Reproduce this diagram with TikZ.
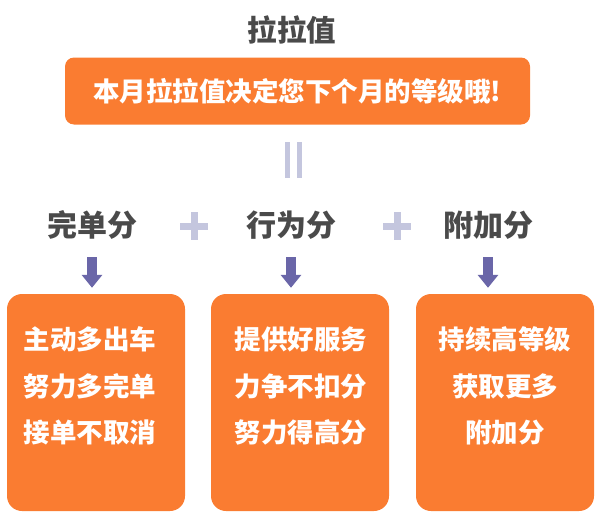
\documentclass[tikz,border=0pt]{standalone}
\usepackage{fontspec}
\newfontfamily\cjk{Noto Sans CJK SC}
\usetikzlibrary{arrows.meta, positioning}
\definecolor{lalaorange}{HTML}{FA7C31}
\definecolor{textgray}{HTML}{4A4A4A}
\definecolor{symlav}{HTML}{C4C6DE}
\definecolor{arrowpurple}{HTML}{6A66A8}

\begin{document}
\begin{tikzpicture}[
    x=1pt, y=-1pt,
    headline/.style={font=\cjk\bfseries\fontsize{29.5}{29.5}\selectfont,
                     text=textgray, inner sep=0pt},
    banner/.style={rectangle, rounded corners=9pt, fill=lalaorange,
                   minimum width=465pt, minimum height=67pt, text=white,
                   font=\cjk\bfseries\fontsize{26.5}{26.5}\selectfont},
    part/.style={font=\cjk\bfseries\fontsize{30}{30}\selectfont,
                 text=textgray, inner sep=0pt, minimum height=32pt},
    card/.style={rectangle, rounded corners=15pt, fill=lalaorange,
                 minimum width=178pt, minimum height=217pt},
    cardtext/.style={align=center, text=white, inner sep=0pt,
                     font=\cjk\bfseries\fontsize{26.5}{46.5}\selectfont},
    sym/.style={fill=symlav},
    arr/.style={-{Triangle[length=13pt,width=20pt]}, line width=10pt,
                draw=arrowpurple, shorten <=16pt, shorten >=6pt},
]
\useasboundingbox (0,0) rectangle (601,522);

\node[headline] (title) at (292,30) {拉拉值};
\node[banner] (banner) at (297.5,91) {本月拉拉值决定您下个月的等级哦!};

% equals sign, standing upright
\fill[sym] (284.5,142) rectangle (289.5,178);
\fill[sym] (297,142) rectangle (302,178);

\node[part] (done)   at (92,225)  {完单分};
\node[part] (manner) at (291,225) {行为分};
\node[part] (extra)  at (488,225) {附加分};

% plus signs
\fill[sym] (180,222.5) rectangle (208,229.5);
\fill[sym] (190.5,212) rectangle (197.5,240);
\fill[sym] (383,222.5) rectangle (411,229.5);
\fill[sym] (393.5,212) rectangle (400.5,240);

\node[card] (c1) at (96,402.5)  {};
\node[card] (c2) at (300,402.5) {};
\node[card] (c3) at (505,402.5) {};

\node[cardtext] (t1) at (90,386)  {主动多出车\\努力多完单\\接单不取消};
\node[cardtext] (t2) at (301,386) {提供好服务\\力争不扣分\\努力得高分};
\node[cardtext] (t3) at (505,386) {持续高等级\\获取更多\\附加分};

\draw[arr] (done.south)   -- (done.south |- c1.north);
\draw[arr] (manner.south) -- (manner.south |- c2.north);
\draw[arr] (extra.south)  -- (extra.south |- c3.north);
\end{tikzpicture}
\end{document}
